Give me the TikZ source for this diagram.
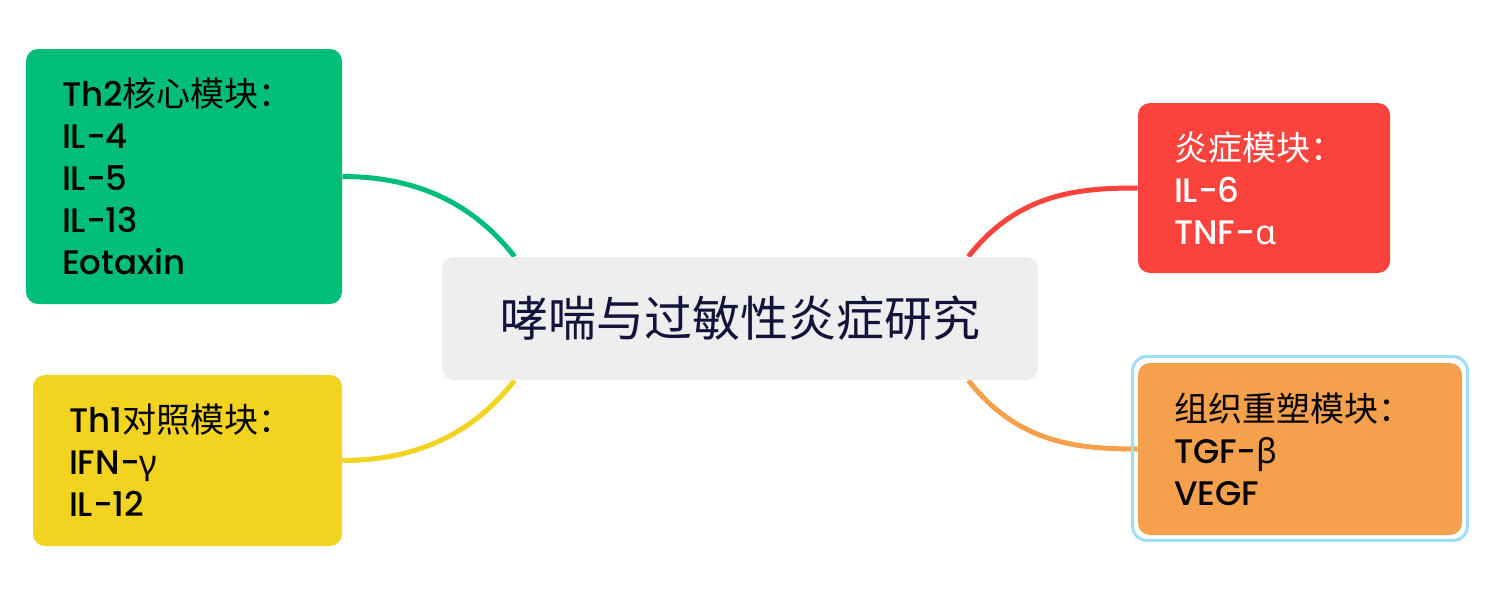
\documentclass[tikz,border=0pt]{standalone}
\usepackage{fontspec}
\setmainfont{Poppins}[UprightFont={* Medium}]
\newfontfamily\cjk{Noto Sans CJK SC}
\newfontfamily\grk{Noto Sans}
\usetikzlibrary{calc,backgrounds}
\definecolor{hubgray}{HTML}{EEEEEE}
\definecolor{hubink}{HTML}{12123A}
\definecolor{th2green}{HTML}{00BD7A}
\definecolor{th1yellow}{HTML}{F2D320}
\definecolor{inflred}{HTML}{FA433D}
\definecolor{remorange}{HTML}{F5A04C}
\definecolor{selblue}{HTML}{9EDDF9}
\tikzstyle{module}=[rounded corners=6pt, inner xsep=18pt, align=left,
    font=\fontsize{17}{21}\selectfont]
\tikzstyle{branch}=[line width=2.5pt]

\begin{document}
\begin{tikzpicture}[x=0.5pt, y=-0.5pt]
\useasboundingbox (0,0) rectangle (1485,594);
% Hub
    \node[fill=hubgray, rounded corners=6pt, minimum width=298pt, minimum height=61.5pt,
        text=hubink, font=\fontsize{24}{28}\selectfont\cjk] (hub) at (740,318.5) {哮喘与过敏性炎症研究};
% Modules
    \node[module, fill=th2green, text width=122pt, minimum height=127.5pt] (th2) at (184,176.5)
        {Th2{\cjk 核心模块：}\\IL-4\\IL-5\\IL-13\\Eotaxin};
    \node[module, fill=th1yellow, text width=118.5pt, minimum height=85.5pt] (th1) at (187.5,460.5)
        {Th1{\cjk 对照模块：}\\IFN-{\grk γ}\\IL-12};
    \node[module, fill=inflred, text=white, text width=90pt, minimum height=85pt] (infl) at (1264,188)
        {{\cjk 炎症模块：}\\IL-6\\TNF-{\grk α}};
    \node[module, fill=remorange, text width=126pt, minimum height=86pt] (remod) at (1300,449)
        {{\cjk 组织重塑模块：}\\TGF-{\grk β}\\VEGF};
% Selection frame
    \draw[selblue, line width=1.5pt, rounded corners=7pt] ($(remod.north west)+(-5,-6)$) rectangle ($(remod.south east)+(5,5)$);
% Branches
    \coordinate (hubNW) at ($(hub.north west)+(73,0)$);
    \coordinate (hubNE) at ($(hub.north east)+(-70,0)$);
    \coordinate (hubSW) at ($(hub.south west)+(73,0)$);
    \coordinate (hubSE) at ($(hub.south east)+(-70,0)$);
    \begin{scope}[on background layer]
    \draw[branch, th2green] (th2.east) .. controls +(58,0) and +(-50,-64) .. (hubNW);
    \draw[branch, th1yellow] (th1.east) .. controls +(58,0) and +(-50,64) .. (hubSW);
    \draw[branch, inflred] (infl.west) .. controls +(-58,0) and +(50,-64) .. (hubNE);
    \draw[branch, remorange] (remod.west) .. controls +(-58,0) and +(50,64) .. (hubSE);
    \end{scope}
\end{tikzpicture}
\end{document}
